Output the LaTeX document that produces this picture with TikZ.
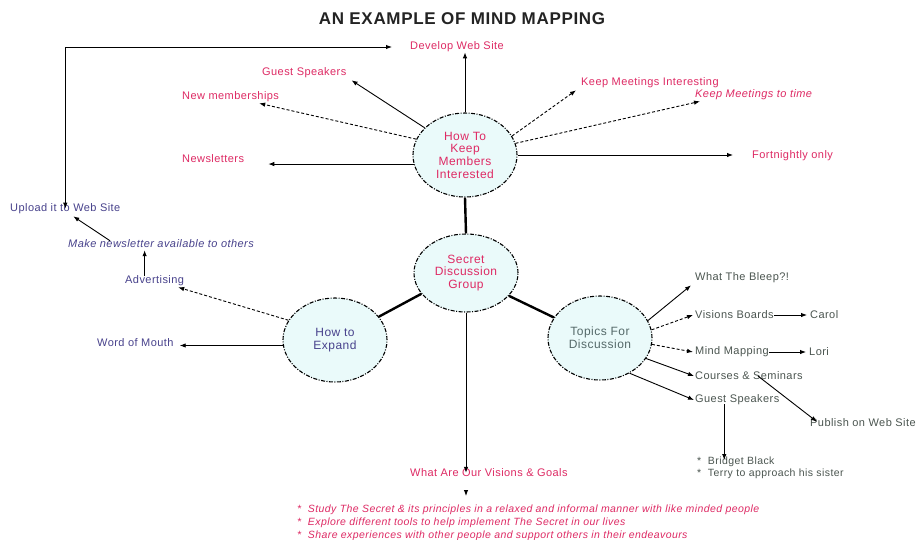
\documentclass[tikz,border=0pt]{standalone}
\usepackage{fontspec}
\setmainfont[LetterSpace=4]{Liberation Sans}
\usetikzlibrary{shapes.geometric,arrows.meta}
\definecolor{pinkt}{RGB}{222,42,100}
\definecolor{purt}{RGB}{72,66,140}
\definecolor{greyt}{RGB}{75,85,80}
\definecolor{topict}{RGB}{85,105,105}
\definecolor{titlet}{RGB}{35,35,35}
\definecolor{bubfill}{RGB}{234,250,250}
\begin{document}
\begin{tikzpicture}[x=1pt,y=-1pt,
 every node/.style={font=\fontsize{11}{13}\selectfont, inner sep=0pt},
 bubble/.style={ellipse, draw=black, fill=bubfill, line width=1.1pt,
   dash pattern=on 4pt off 1.5pt on 1pt off 1.5pt,
   minimum width=104pt, minimum height=84pt, align=center,
   font=\fontsize{12}{12.7}\selectfont},
 pk/.style={text=pinkt}, pu/.style={text=purt}, gy/.style={text=greyt},
 arr/.style={-{Latex[length=6pt,width=4.5pt]}, line width=0.9pt},
 darr/.style={arr, dash pattern=on 3pt off 2pt},
 link/.style={line width=2.4pt},
]
\useasboundingbox[fill=white] (0,0) rectangle (919,539);

% title
\node[text=titlet, font=\bfseries\fontsize{17}{20}\selectfont] (title) at (462,19) {AN EXAMPLE OF MIND MAPPING};

% bubbles
\node[bubble, pk] (keep) at (465,155) {How To\\Keep\\Members\\Interested};
\node[bubble, pk, minimum height=78pt] (secret) at (466,273) {Secret\\Discussion\\Group};
\node[bubble, pu] (expand) at (335,340) {How to\\Expand};
\node[bubble, text=topict] (topics) at (600,338) {Topics For\\Discussion};

% top labels
\node[pk, anchor=west] (dev) at (410,47) {Develop Web Site};
\node[pk, anchor=west] (guest1) at (262,73) {Guest Speakers};
\node[pk, anchor=west] (newmem) at (182,97) {New memberships};
\node[pk, anchor=west] (news) at (182,159) {Newsletters};
\node[pk, anchor=west] (kmi) at (581,83) {Keep Meetings Interesting};
\node[pk, anchor=west, font=\itshape\fontsize{11}{13}\selectfont] (kmt) at (695,95) {Keep Meetings to time};
\node[pk, anchor=west] (fort) at (752,156) {Fortnightly only};

% left labels
\node[pu, anchor=west] (upload) at (10,209) {Upload it to Web Site};
\node[pu, anchor=west, font=\itshape\fontsize{11}{13}\selectfont] (make) at (68,244) {Make newsletter available to others};
\node[pu, anchor=west] (advert) at (125,281) {Advertising};
\node[pu, anchor=west] (word) at (97,343) {Word of Mouth};

% right labels
\node[gy, anchor=west] (bleep) at (695,278) {What The Bleep?!};
\node[gy, anchor=west] (vis) at (695,315) {Visions Boards};
\node[gy, anchor=west] (carol) at (810,315) {Carol};
\node[gy, anchor=west] (mind) at (695,352) {Mind Mapping};
\node[gy, anchor=west] (lori) at (809,352) {Lori};
\node[gy, anchor=west] (courses) at (695,376) {Courses \& Seminars};
\node[gy, anchor=west] (guest2) at (695,400) {Guest Speakers};
\node[gy, anchor=west] (pub) at (810,423) {Publish on Web Site};
\node[gy, anchor=north west, align=left, font=\fontsize{10.5}{12}\selectfont] (list) at (697,457) {*\ \ Bridget Black\\*\ \ Terry to approach his sister};

% bottom
\node[pk, anchor=west] (goals) at (410,473) {What Are Our Visions \& Goals};
\node[pk, anchor=north west, align=left, font=\itshape\fontsize{10.5}{12.6}\selectfont] (bul) at (297,505)
 {*\ \ Study The Secret \& its principles in a relaxed and informal manner with like minded people\\
  *\ \ Explore different tools to help implement The Secret in our lives\\
  *\ \ Share experiences with other people and support others in their endeavours};
\coordinate (tipA) at (466,490);
\coordinate (gsd) at ([xshift=-13pt,yshift=1pt]guest2.south);

% structural links
\draw[link] (keep.south) -- (secret.north);
\draw[link] (secret.205) -- (expand.28);
\draw[link] (secret.332) -- (topics.156);

% keep members interested
\draw[arr] (keep.north) -- (keep.north |- dev.south);
\draw[arr] (keep.146) -- ([xshift=5pt,yshift=-2pt]guest1.south east);
\draw[darr] (keep.162) -- ([xshift=-20pt,yshift=-1pt]newmem.south east);
\draw[arr] (keep.190) -- ([xshift=24pt]news.east |- keep.190);
\draw[darr] (keep.22) -- ([xshift=-5pt,yshift=-2pt]kmi.south west);
\draw[darr] (keep.13) -- ([xshift=5pt,yshift=-1pt]kmt.south west);
\draw[arr] (keep.east) -- ([xshift=-19pt]fort.west |- keep.east);
\draw[{Latex[length=6pt,width=4.5pt]}-{Latex[length=6pt,width=4.5pt]}, line width=0.9pt]
  ([yshift=-5pt]upload.north) |- ([xshift=-18pt]dev.west);

% expand
\draw[darr] (expand.157) -- ([xshift=-6pt,yshift=-1pt]advert.south east);
\draw[arr] (expand.186) -- ([xshift=6pt]word.east |- expand.186);
\draw[arr] ([xshift=-10pt]advert.north) -- ([xshift=-10pt,yshift=-2pt]advert.north |- make.south);
\draw[arr] ([xshift=42pt,yshift=-1pt]make.north west) -- ([xshift=8pt,yshift=-2pt]upload.south);

% goals
\draw[arr] (secret.south) -- ([yshift=-4pt]secret.south |- goals.north);
\draw[arr] (tipA) -- ++(0,6);

% topics
\draw[arr] (topics.20) -- ([xshift=-4pt,yshift=-2pt]bleep.south west);
\draw[darr] (topics.9) -- ([xshift=-2pt]vis.west);
\draw[darr] (topics.-7) -- ([xshift=-2pt]mind.west);
\draw[arr] (topics.-24) -- ([xshift=-1pt]courses.west);
\draw[arr] (topics.-50) -- ([xshift=-1pt]guest2.west);
\draw[arr] (vis.east) -- ([xshift=-3pt]carol.west);
\draw[arr] (mind.east) -- ([xshift=-3pt]lori.west);
\draw[arr] ([xshift=9pt]courses.center) -- ([xshift=7pt,yshift=-3pt]pub.north west);
\draw[arr] (gsd) -- ([yshift=-3pt]gsd |- list.north);
\end{tikzpicture}
\end{document}
